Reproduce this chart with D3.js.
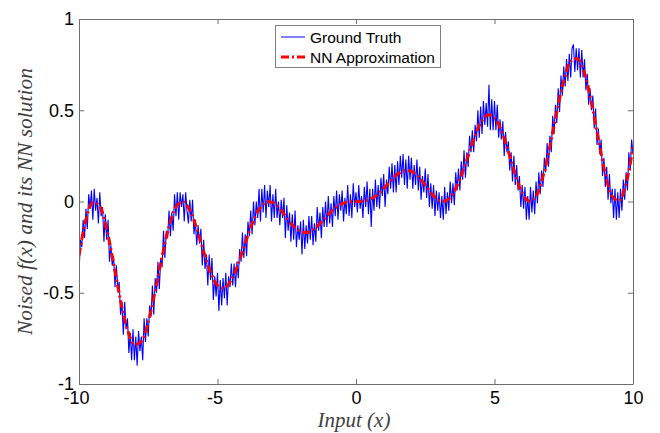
<!DOCTYPE html>
<html><head><meta charset="utf-8">
<script src="https://cdn.jsdelivr.net/npm/d3@7"></script>
<style>body{margin:0;background:#fff}svg{display:block}</style>
</head><body>
<svg id="chart" width="660" height="433"></svg>
<script>
const xDomain = [-10, 10];
const yDomain = [-1, 1];
const xTicks = [-10, -5, 0, 5, 10];
const yTicks = [-1, -0.5, 0, 0.5, 1];
const xTickLabels = ["-10", "-5", "0", "5", "10"];
const yTickLabels = ["-1", "-0.5", "0", "0.5", "1"];
const seriesNames = ["Ground Truth", "NN Approximation"];

// noisy ground truth, sampled every 0.05 from -10 to 10
const groundTruth = [
-0.40,-0.21,-0.25,-0.10,-0.20, -0.04,-0.15,0.04,-0.04,0.06, -0.10,0.07,-0.05,0.02,-0.12, 0.05,-0.08,-0.03,-0.22,-0.07,
-0.21,-0.10,-0.33,-0.24,-0.35, -0.30,-0.47,-0.35,-0.48,-0.44, -0.62,-0.55,-0.73,-0.55,-0.70, -0.64,-0.83,-0.72,-0.87,-0.70,
-0.87,-0.74,-0.90,-0.71,-0.82, -0.74,-0.87,-0.64,-0.77,-0.64, -0.74,-0.57,-0.63,-0.46,-0.62, -0.42,-0.50,-0.33,-0.48,-0.31,
-0.36,-0.16,-0.31,-0.16,-0.20, -0.05,-0.19,-0.06,-0.16,0.04, -0.08,0.05,-0.10,0.05,-0.03, 0.04,-0.11,0.05,-0.05,-0.12,
0.01,-0.11,0.01,-0.18,-0.10, -0.24,-0.13,-0.23,-0.15,-0.35, -0.21,-0.37,-0.29,-0.46,-0.29, -0.43,-0.31,-0.54,-0.41,-0.52,
-0.39,-0.60,-0.43,-0.57,-0.42, -0.53,-0.39,-0.57,-0.41,-0.47, -0.34,-0.46,-0.34,-0.47,-0.33, -0.42,-0.26,-0.33,-0.17,-0.31,
-0.18,-0.30,-0.11,-0.19,-0.05, -0.18,0.00,-0.13,0.00,-0.09, 0.07,-0.11,0.07,-0.06,0.09, -0.09,0.06,-0.03,0.09,-0.11,
0.04,-0.09,0.07,-0.09,0.00, -0.13,0.01,-0.09,0.02,-0.20, -0.02,-0.16,-0.06,-0.22,-0.07, -0.21,-0.05,-0.25,-0.13,-0.21,
-0.11,-0.29,-0.10,-0.26,-0.13, -0.23,-0.08,-0.21,-0.08,-0.24, -0.12,-0.22,-0.03,-0.16,-0.06, -0.20,-0.03,-0.14,0.00,-0.14,
0.03,-0.12,-0.01,-0.14,0.03, -0.08,0.06,-0.10,0.04,-0.05, 0.06,-0.11,0.02,-0.07,0.09, -0.08,0.04,-0.09,0.10,-0.03,
0.05,-0.06,0.09,-0.04,0.03, -0.09,0.08,-0.03,0.11,-0.07, 0.07,-0.14,0.07,-0.05,0.12, -0.03,0.09,-0.04,0.13,0.03,
0.15,-0.03,0.12,0.04,0.19, 0.07,0.21,0.05,0.20,0.05, 0.22,0.09,0.25,0.13,0.26, 0.09,0.23,0.07,0.25,0.12,
0.24,0.07,0.20,0.09,0.23, 0.06,0.19,0.01,0.14,0.05, 0.18,0.02,0.15,-0.03,0.10, -0.04,0.09,-0.08,0.06,-0.05,
0.05,-0.09,0.03,-0.10,0.08, -0.07,0.05,-0.05,0.11,-0.01, 0.10,-0.02,0.16,0.06,0.18, 0.06,0.22,0.12,0.28,0.13,
0.27,0.19,0.36,0.27,0.39, 0.27,0.42,0.33,0.50,0.35, 0.52,0.37,0.55,0.42,0.54, 0.41,0.64,0.39,0.56,0.39,
0.55,0.39,0.53,0.35,0.45, 0.34,0.44,0.25,0.38,0.27, 0.33,0.17,0.27,0.11,0.25, 0.09,0.20,0.06,0.14,-0.03,
0.09,-0.04,0.08,-0.10,0.03, -0.10,0.08,-0.06,0.06,-0.07, 0.11,-0.01,0.16,0.04,0.17, 0.08,0.24,0.16,0.32,0.19,
0.36,0.27,0.47,0.37,0.53, 0.43,0.62,0.49,0.69,0.58, 0.74,0.63,0.78,0.66,0.81, 0.68,0.84,0.86,0.71,0.84,
0.72,0.84,0.68,0.83,0.68, 0.78,0.61,0.70,0.53,0.62, 0.50,0.58,0.40,0.51,0.31, 0.40,0.26,0.34,0.14,0.24,
0.08,0.19,0.01,0.15,-0.01, 0.07,-0.09,0.07,-0.10,0.05, -0.09,0.07,-0.05,0.12,0.01, 0.16,0.06,0.27,0.17,0.34,
0.26
];

// NN approximation, sampled every 0.25 from -10 to 10
const nnApprox = [
-0.296,-0.100,-0.005,-0.028,-0.153,-0.341,-0.542,-0.702,-0.783,-0.767,
-0.660,-0.491,-0.302,-0.137,-0.030,-0.001,-0.047,-0.149,-0.274,-0.387,
-0.460,-0.474,-0.430,-0.340,-0.229,-0.123,-0.043,-0.004,-0.006,-0.040,
-0.090,-0.136,-0.165,-0.169,-0.149,-0.113,-0.071,-0.035,-0.012,-0.002,
0,
0.002,0.012,0.035,0.071,0.113,0.149,0.169,0.165,0.136,0.090,
0.040,0.006,0.004,0.043,0.123,0.229,0.340,0.430,0.474,0.460,
0.387,0.274,0.149,0.047,0.001,0.030,0.137,0.302,0.491,0.660,
0.767,0.783,0.702,0.542,0.341,0.153,0.028,0.005,0.100,0.296
];

const W = 660, H = 433;
const m = {left: 79, right: 27, top: 19, bottom: 49};
const svg = d3.select("#chart");
const x = d3.scaleLinear().domain(xDomain).range([m.left, W - m.right]);
const y = d3.scaleLinear().domain(yDomain).range([H - m.bottom, m.top]);

const axisColor = "#6e6e6e";
const tickFont = "Arial, 'Liberation Sans', sans-serif";
const tickSize = 18;

svg.append("defs").append("clipPath").attr("id", "clip")
  .append("rect").attr("x", m.left).attr("y", m.top)
  .attr("width", W - m.left - m.right).attr("height", H - m.top - m.bottom);

const gtData = groundTruth.map((v, i) => [xDomain[0] + i * (xDomain[1] - xDomain[0]) / (groundTruth.length - 1), v]);
const nnData = nnApprox.map((v, i) => [xDomain[0] + i * (xDomain[1] - xDomain[0]) / (nnApprox.length - 1), v]);

const plot = svg.append("g").attr("clip-path", "url(#clip)");
plot.append("path").datum(gtData)
  .attr("fill", "none").attr("stroke", "#0000ff").attr("stroke-width", 1.1)
  .attr("d", d3.line().x(d => x(d[0])).y(d => y(d[1])));
plot.append("path").datum(nnData)
  .attr("fill", "none").attr("stroke", "#ff0000").attr("stroke-width", 3)
  .attr("stroke-dasharray", "8,3,2,3")
  .attr("d", d3.line().curve(d3.curveCatmullRom).x(d => x(d[0])).y(d => y(d[1])));

const tickLen = 5;
const xb = svg.append("g").attr("transform", `translate(0,${H - m.bottom})`)
  .call(d3.axisBottom(x).tickValues(xTicks).tickSizeInner(-tickLen).tickSizeOuter(0)
    .tickFormat((d, i) => xTickLabels[i]));
const xt = svg.append("g").attr("transform", `translate(0,${m.top})`)
  .call(d3.axisTop(x).tickValues(xTicks).tickSizeInner(-tickLen).tickSizeOuter(0).tickFormat(""));
const yl = svg.append("g").attr("transform", `translate(${m.left},0)`)
  .call(d3.axisLeft(y).tickValues(yTicks).tickSizeInner(-tickLen).tickSizeOuter(0)
    .tickFormat((d, i) => yTickLabels[i]));
const yr = svg.append("g").attr("transform", `translate(${W - m.right},0)`)
  .call(d3.axisRight(y).tickValues(yTicks).tickSizeInner(-tickLen).tickSizeOuter(0).tickFormat(""));

[xb, xt, yl, yr].forEach(g => {
  g.selectAll(".domain").attr("stroke", axisColor);
  g.selectAll(".tick line").attr("stroke", axisColor);
  g.selectAll("text").attr("fill", "#000").style("font-family", tickFont).style("font-size", tickSize + "px");
});
xb.selectAll("text").attr("y", 7).attr("dy", "0.71em")
  .attr("dx", (d, i) => xTickLabels[i].startsWith("-") ? -3 : 0);
yl.selectAll("text").attr("x", -5);

const labelFont = "'Liberation Serif','Times New Roman',serif";
svg.append("text").attr("x", x(0) - 2).attr("y", 427)
  .attr("text-anchor", "middle").attr("fill", "#404040")
  .style("font-family", labelFont).style("font-style", "italic").style("font-size", "21px")
  .text("Input (x)");
svg.append("text").attr("transform", `translate(32,${(m.top + H - m.bottom) / 2}) rotate(-90)`)
  .attr("text-anchor", "middle").attr("fill", "#404040")
  .style("font-family", labelFont).style("font-style", "italic").style("font-size", "21.5px")
  .text("Noised f(x) and its NN solution");

const lg = svg.append("g");
lg.append("rect").attr("x", 275.5).attr("y", 25.5).attr("width", 165).attr("height", 42)
  .attr("fill", "#fff").attr("stroke", "#808080").attr("stroke-width", 1);
const items = [
  {name: seriesNames[0], color: "#0000ff", w: 1, dash: null, ly: 37},
  {name: seriesNames[1], color: "#ff0000", w: 3, dash: "8,3,2,3", ly: 57}
];
items.forEach(it => {
  lg.append("line").attr("x1", 281).attr("x2", 305).attr("y1", it.ly).attr("y2", it.ly)
    .attr("stroke", it.color).attr("stroke-width", it.w).attr("stroke-dasharray", it.dash);
  lg.append("text").attr("x", 310).attr("y", it.ly + 5.5).attr("fill", "#000")
    .style("font-family", tickFont).style("font-size", "15.5px").text(it.name);
});
</script>
</body></html>
